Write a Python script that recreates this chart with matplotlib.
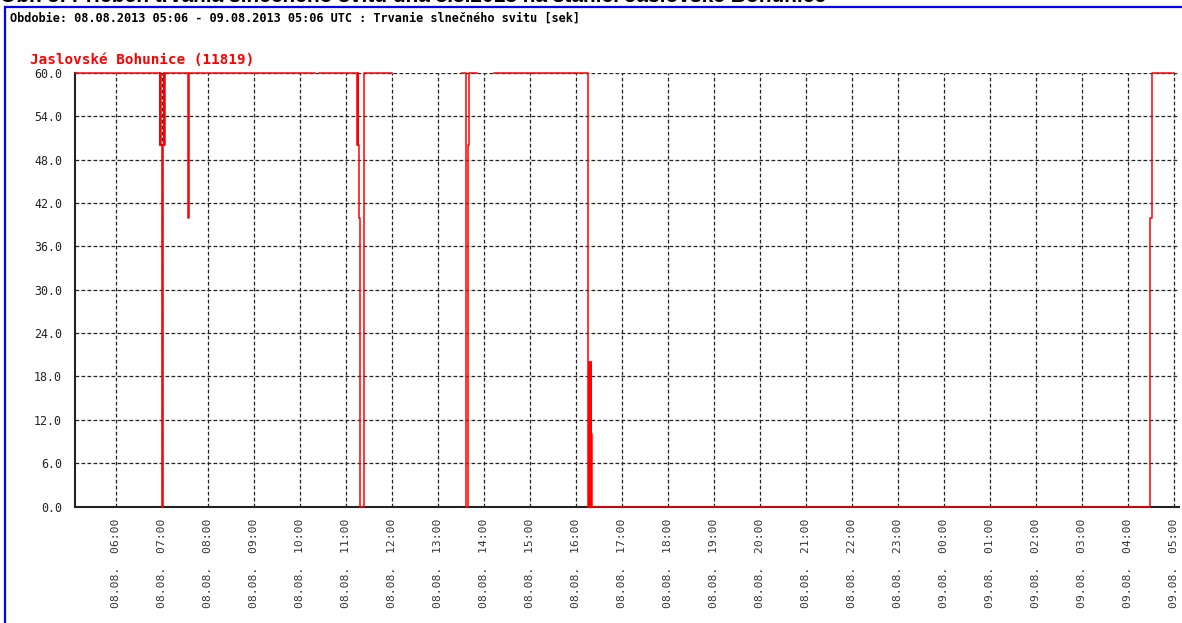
import numpy as np
import pandas as pd
import matplotlib
matplotlib.use("Agg")
import matplotlib.pyplot as plt
import matplotlib.dates as mdates
from matplotlib.patches import Rectangle

# breakpoints of the 1-minute sunshine series (value holds until next time), NaN = no data
times = [
    "2013-08-08 05:06", "2013-08-08 06:57", "2013-08-08 06:58", "2013-08-08 06:59",
    "2013-08-08 07:00", "2013-08-08 07:01", "2013-08-08 07:02", "2013-08-08 07:03",
    "2013-08-08 07:04", "2013-08-08 07:34", "2013-08-08 07:35", "2013-08-08 10:19",
    "2013-08-08 10:25", "2013-08-08 11:14", "2013-08-08 11:15", "2013-08-08 11:16",
    "2013-08-08 11:17", "2013-08-08 11:18", "2013-08-08 11:23", "2013-08-08 12:00",
    "2013-08-08 13:31", "2013-08-08 13:36", "2013-08-08 13:37", "2013-08-08 13:39",
    "2013-08-08 13:41", "2013-08-08 13:51", "2013-08-08 14:13", "2013-08-08 16:16",
    "2013-08-08 16:17", "2013-08-08 16:18", "2013-08-08 16:19", "2013-08-08 16:20",
    "2013-08-08 16:21", "2013-08-09 04:29", "2013-08-09 04:31", "2013-08-09 05:00",
]
values = [
    60, 50, 60, 50,
    0, 50, 60, 50,
    60, 40, 60, np.nan,
    60, 50, 60, 50,
    40, 0, 60, np.nan,
    60, 40, 0, 50,
    60, np.nan, 60, 0,
    20, 0, 20, 10,
    0, 40, 60, 60,
]

station = "Jaslovské Bohunice (11819)"
header = "Obdobie: 08.08.2013 05:06 - 09.08.2013 05:06 UTC : Trvanie slnečného svitu [sek]"
caption = "Obr. 5: Priebeh trvania slnečného svitu dňa 8.8.2013 na stanici Jaslovské Bohunice"
y_ticks = [0, 6, 12, 18, 24, 30, 36, 42, 48, 54, 60]

t = pd.to_datetime(times)
t0 = pd.Timestamp("2013-08-08 05:06")
t1 = pd.Timestamp("2013-08-09 05:06")

W, H = 1182, 623
fig = plt.figure(figsize=(W / 100, H / 100), dpi=100)

# blue frame
fig.add_artist(Rectangle((5 / W, -0.1), 1.2, 1.1 - 7 / H, transform=fig.transFigure,
                         fill=False, edgecolor="#0000ff", lw=1.6))
# caption, cut off at the top edge as in the source image
fig.text(0.0, 1 - 2.5 / H, caption, fontsize=15, fontweight="bold",
         family="Liberation Sans", va="baseline", ha="left", color="black")
fig.text(10 / W, 1 - 18 / H, header, fontsize=8.6, fontweight="bold",
         family="DejaVu Sans Mono", va="center", ha="left")
fig.text(30 / W, 1 - 60 / H, station, fontsize=10.3, fontweight="bold",
         family="DejaVu Sans Mono", va="center", ha="left", color="#ff0000")

ax = fig.add_axes([74.6 / W, (H - 506.5) / H, 1104 / W, 433.5 / H])
ax.plot(t, values, drawstyle="steps-post", color="#ff0000", lw=1.1,
        clip_on=False, zorder=5)

ax.set_xlim(t0, t1)
ax.set_ylim(0, 60)
ax.set_yticks(y_ticks)
ax.yaxis.set_major_formatter(plt.FuncFormatter(lambda v, p: f"{v:.1f}"))
ax.xaxis.set_major_locator(mdates.HourLocator())
ax.xaxis.set_major_formatter(mdates.DateFormatter("%d.%m.  %H:%M"))

for lbl in ax.get_xticklabels():
    lbl.set_rotation(90)
    lbl.set_family("DejaVu Sans Mono")
    lbl.set_fontsize(8.2)
    lbl.set_color("#333333")
for lbl in ax.get_yticklabels():
    lbl.set_family("DejaVu Sans Mono")
    lbl.set_fontsize(8.4)
    lbl.set_color("#222222")

ax.tick_params(length=0, pad=9)
ax.grid(True, color="#222222", linestyle=(0, (3, 1.8)), lw=0.9)
ax.set_axisbelow(True)
for s in ["top", "right"]:
    ax.spines[s].set_visible(False)
for s in ["left", "bottom"]:
    ax.spines[s].set_linewidth(1.5)
    ax.spines[s].set_color("#222222")

fig.savefig("out.png", dpi=100)
